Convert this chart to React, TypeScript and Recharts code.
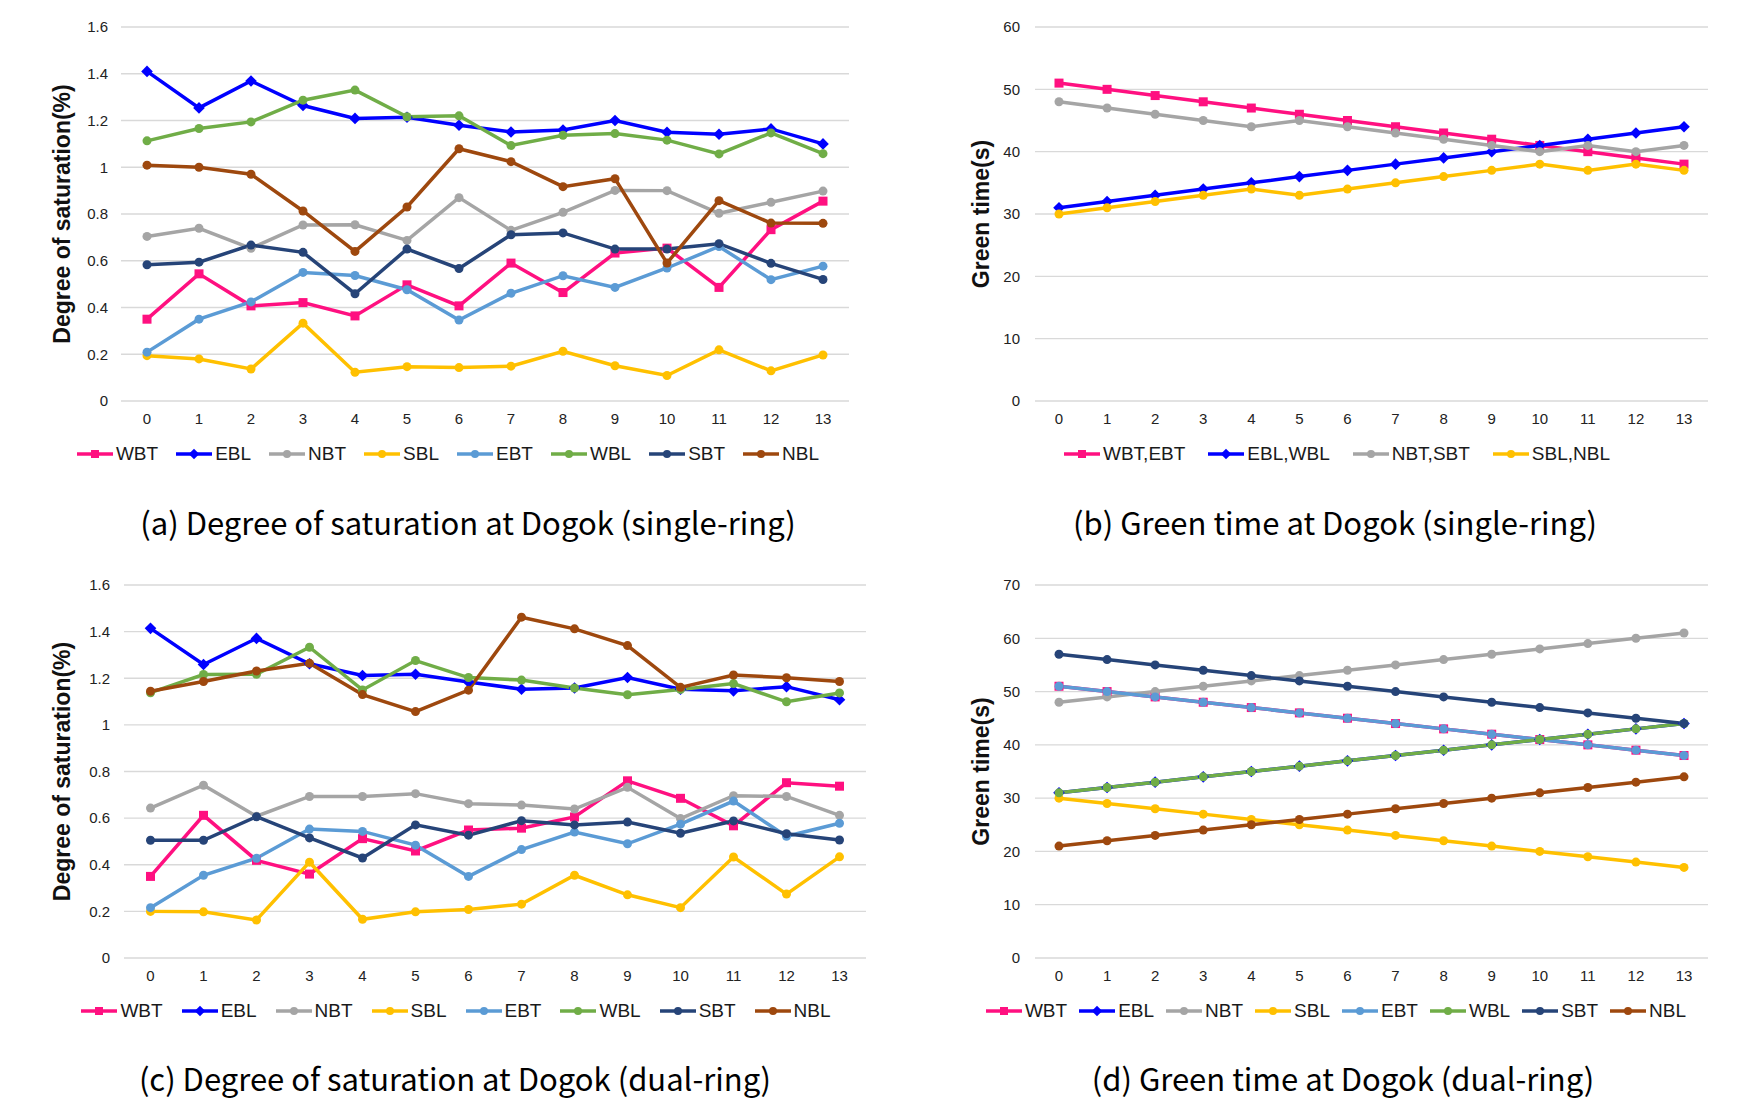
import React from "react";
import { LineChart, Line, XAxis, YAxis, CartesianGrid, Legend } from "recharts";

// signal cycle steps on the x axis
const STEPS = [0, 1, 2, 3, 4, 5, 6, 7, 8, 9, 10, 11, 12, 13];

// (a) degree of saturation, single-ring
const satSingleWBT = [0.35, 0.544, 0.407, 0.421, 0.364, 0.497, 0.407, 0.59, 0.464, 0.633, 0.654, 0.486, 0.733, 0.855];
const satSingleEBL = [1.41, 1.254, 1.369, 1.264, 1.209, 1.214, 1.18, 1.151, 1.159, 1.2, 1.15, 1.141, 1.164, 1.1];
const satSingleNBT = [0.704, 0.739, 0.653, 0.753, 0.754, 0.687, 0.87, 0.73, 0.807, 0.901, 0.9, 0.803, 0.85, 0.898];
const satSingleSBL = [0.194, 0.18, 0.137, 0.333, 0.123, 0.147, 0.143, 0.149, 0.213, 0.151, 0.109, 0.219, 0.129, 0.197];
const satSingleEBT = [0.209, 0.35, 0.424, 0.55, 0.537, 0.476, 0.346, 0.461, 0.536, 0.486, 0.569, 0.661, 0.519, 0.577];
const satSingleWBL = [1.113, 1.166, 1.194, 1.287, 1.33, 1.216, 1.22, 1.093, 1.137, 1.144, 1.116, 1.057, 1.147, 1.058];
const satSingleSBT = [0.583, 0.594, 0.667, 0.636, 0.459, 0.65, 0.567, 0.711, 0.719, 0.65, 0.65, 0.673, 0.589, 0.52];
const satSingleNBL = [1.009, 1.0, 0.97, 0.813, 0.64, 0.83, 1.079, 1.024, 0.917, 0.951, 0.59, 0.857, 0.761, 0.76];

// (b) green time, single-ring
const greenSingleWBTEBT = [51, 50, 49, 48, 47, 46, 45, 44, 43, 42, 41, 40, 39, 38];
const greenSingleEBLWBL = [31, 32, 33, 34, 35, 36, 37, 38, 39, 40, 41, 42, 43, 44];
const greenSingleNBTSBT = [48, 47, 46, 45, 44, 45, 44, 43, 42, 41, 40, 41, 40, 41];
const greenSingleSBLNBL = [30, 31, 32, 33, 34, 33, 34, 35, 36, 37, 38, 37, 38, 37];

// (c) degree of saturation, dual-ring
const satDualWBT = [0.35, 0.612, 0.419, 0.36, 0.512, 0.459, 0.549, 0.557, 0.605, 0.76, 0.685, 0.567, 0.752, 0.737];
const satDualEBL = [1.414, 1.259, 1.371, 1.262, 1.212, 1.217, 1.184, 1.153, 1.158, 1.203, 1.153, 1.146, 1.164, 1.108];
const satDualNBT = [0.643, 0.741, 0.608, 0.693, 0.693, 0.705, 0.662, 0.656, 0.639, 0.732, 0.598, 0.696, 0.693, 0.612];
const satDualSBL = [0.2, 0.198, 0.163, 0.411, 0.166, 0.198, 0.208, 0.231, 0.355, 0.271, 0.216, 0.433, 0.274, 0.434];
const satDualEBT = [0.216, 0.355, 0.428, 0.553, 0.543, 0.484, 0.35, 0.465, 0.54, 0.49, 0.574, 0.673, 0.522, 0.578];
const satDualWBL = [1.138, 1.216, 1.217, 1.333, 1.15, 1.276, 1.203, 1.192, 1.158, 1.129, 1.152, 1.177, 1.099, 1.137];
const satDualSBT = [0.505, 0.505, 0.606, 0.515, 0.429, 0.571, 0.527, 0.589, 0.571, 0.583, 0.535, 0.588, 0.533, 0.506];
const satDualNBL = [1.144, 1.186, 1.231, 1.264, 1.13, 1.057, 1.149, 1.462, 1.412, 1.34, 1.161, 1.214, 1.202, 1.186];

// (d) green time, dual-ring
const greenDualWBT = [51, 50, 49, 48, 47, 46, 45, 44, 43, 42, 41, 40, 39, 38];
const greenDualEBL = [31, 32, 33, 34, 35, 36, 37, 38, 39, 40, 41, 42, 43, 44];
const greenDualNBT = [48, 49, 50, 51, 52, 53, 54, 55, 56, 57, 58, 59, 60, 61];
const greenDualSBL = [30, 29, 28, 27, 26, 25, 24, 23, 22, 21, 20, 19, 18, 17];
const greenDualEBT = [51, 50, 49, 48, 47, 46, 45, 44, 43, 42, 41, 40, 39, 38];
const greenDualWBL = [31, 32, 33, 34, 35, 36, 37, 38, 39, 40, 41, 42, 43, 44];
const greenDualSBT = [57, 56, 55, 54, 53, 52, 51, 50, 49, 48, 47, 46, 45, 44];
const greenDualNBL = [21, 22, 23, 24, 25, 26, 27, 28, 29, 30, 31, 32, 33, 34];

const SAT_TICKS = [0, 0.2, 0.4, 0.6, 0.8, 1, 1.2, 1.4, 1.6];
const GREEN_TICKS_SINGLE = [0, 10, 20, 30, 40, 50, 60];
const GREEN_TICKS_DUAL = [0, 10, 20, 30, 40, 50, 60, 70];

const C = {
  pink: "#FF1080",
  blue: "#0000FF",
  gray: "#A5A5A5",
  yellow: "#FFC000",
  lightBlue: "#5B9BD5",
  green: "#70AD47",
  navy: "#264478",
  brown: "#9E480E",
};

type Shape = "square" | "diamond" | "circle";
interface Series {
  key: string;
  name: string;
  color: string;
  shape: Shape;
  values: number[];
}

const eightSeries = (v: number[][]): Series[] => [
  { key: "wbt", name: "WBT", color: C.pink, shape: "square", values: v[0] },
  { key: "ebl", name: "EBL", color: C.blue, shape: "diamond", values: v[1] },
  { key: "nbt", name: "NBT", color: C.gray, shape: "circle", values: v[2] },
  { key: "sbl", name: "SBL", color: C.yellow, shape: "circle", values: v[3] },
  { key: "ebt", name: "EBT", color: C.lightBlue, shape: "circle", values: v[4] },
  { key: "wbl", name: "WBL", color: C.green, shape: "circle", values: v[5] },
  { key: "sbt", name: "SBT", color: C.navy, shape: "circle", values: v[6] },
  { key: "nbl", name: "NBL", color: C.brown, shape: "circle", values: v[7] },
];

const seriesA = eightSeries([satSingleWBT, satSingleEBL, satSingleNBT, satSingleSBL, satSingleEBT, satSingleWBL, satSingleSBT, satSingleNBL]);
const seriesB: Series[] = [
  { key: "wbtebt", name: "WBT,EBT", color: C.pink, shape: "square", values: greenSingleWBTEBT },
  { key: "eblwbl", name: "EBL,WBL", color: C.blue, shape: "diamond", values: greenSingleEBLWBL },
  { key: "nbtsbt", name: "NBT,SBT", color: C.gray, shape: "circle", values: greenSingleNBTSBT },
  { key: "sblnbl", name: "SBL,NBL", color: C.yellow, shape: "circle", values: greenSingleSBLNBL },
];
const seriesC = eightSeries([satDualWBT, satDualEBL, satDualNBT, satDualSBL, satDualEBT, satDualWBL, satDualSBT, satDualNBL]);
const seriesD = eightSeries([greenDualWBT, greenDualEBL, greenDualNBT, greenDualSBL, greenDualEBT, greenDualWBL, greenDualSBT, greenDualNBL]);

const toRows = (series: Series[]) =>
  STEPS.map((step, i) => {
    const row: Record<string, number> = { step };
    series.forEach((s) => (row[s.key] = s.values[i]));
    return row;
  });

const FONT = "'Liberation Sans', Arial, sans-serif";
const CAPTION_FONT = "'Noto Sans CJK KR', 'Noto Sans', sans-serif";

function Marker({ cx, cy, color, shape, size }: { cx?: number; cy?: number; color: string; shape: Shape; size: number }) {
  if (cx == null || cy == null) return null;
  if (shape === "square") {
    return <rect x={cx - size / 2} y={cy - size / 2} width={size} height={size} fill={color} />;
  }
  if (shape === "diamond") {
    const h = size * 0.58;
    return <polygon points={`${cx},${cy - h} ${cx + h},${cy} ${cx},${cy + h} ${cx - h},${cy}`} fill={color} />;
  }
  return <circle cx={cx} cy={cy} r={size / 2} fill={color} />;
}

interface PanelProps {
  left: number;
  top: number;
  width: number;
  height: number;
  yAxisWidth: number;
  marginRight: number;
  marginBottom: number;
  series: Series[];
  ticks: number[];
  yLabel: string;
  yLabelX: number;
  tickMargin: number;
  xPad: number;
  legendCenter: number;
  legendTop: number;
  legendGap: number;
}

function Panel(p: PanelProps) {
  const data = toRows(p.series);
  const order = p.series.map((s) => s.key);
  const byKey: Record<string, Series> = {};
  p.series.forEach((s) => (byKey[s.key] = s));

  // keep the legend in drawing order, not alphabetical
  const renderLegend = (props: any) => {
    const items = [...(props.payload || [])].sort((a: any, b: any) => order.indexOf(a.dataKey) - order.indexOf(b.dataKey));
    return (
      <div style={{ display: "flex", justifyContent: "center", alignItems: "center", gap: p.legendGap, fontFamily: FONT, fontSize: 19, color: "#1a1a1a" }}>
        {items.map((entry: any) => {
          const s = byKey[entry.dataKey];
          return (
            <div key={entry.dataKey} style={{ display: "flex", alignItems: "center" }}>
              <svg width={36} height={14}>
                <line x1={0} y1={7} x2={36} y2={7} stroke={s.color} strokeWidth={3.5} />
                <Marker cx={18} cy={7} color={s.color} shape={s.shape} size={s.shape === "diamond" ? 9 : 8} />
              </svg>
              <span style={{ marginLeft: 3, lineHeight: "22px" }}>{s.name}</span>
            </div>
          );
        })}
      </div>
    );
  };

  const yLabelContent = (props: any) => {
    const vb = props.viewBox || { y: 0, height: 0 };
    const cy = vb.y + vb.height / 2;
    return (
      <text x={p.yLabelX} y={cy} transform={`rotate(-90, ${p.yLabelX}, ${cy})`} textAnchor="middle" dominantBaseline="central" fontFamily={FONT} fontWeight="bold" fontSize={23} fill="#111">
        {p.yLabel}
      </text>
    );
  };

  return (
    <div style={{ position: "absolute", left: p.left, top: p.top }}>
      <LineChart width={p.width} height={p.height} data={data} margin={{ top: 27, right: p.marginRight, left: 0, bottom: p.marginBottom }}>
        <CartesianGrid vertical={false} stroke="#D9D9D9" strokeWidth={1.3} />
        <XAxis dataKey="step" axisLine={false} tickLine={false} tickSize={0} tickMargin={12} height={30} padding={{ left: p.xPad, right: p.xPad }} tick={{ fontFamily: FONT, fontSize: 15, fill: "#222" }} interval={0} />
        <YAxis width={p.yAxisWidth} domain={[p.ticks[0], p.ticks[p.ticks.length - 1]]} ticks={p.ticks} axisLine={false} tickLine={false} tickSize={0} tickMargin={p.tickMargin} tick={{ fontFamily: FONT, fontSize: 15, fill: "#222" }} label={{ content: yLabelContent }} />
        <Legend layout="horizontal" verticalAlign="middle" align="center" content={renderLegend} wrapperStyle={{ left: p.legendCenter - 450, width: 900, top: p.legendTop, height: 24 }} />
        {p.series.map((s) => (
          <Line
            key={s.key}
            type="linear"
            dataKey={s.key}
            name={s.name}
            stroke={s.color}
            strokeWidth={3.5}
            dot={(d: any) => <Marker key={`${s.key}-${d.index}`} cx={d.cx} cy={d.cy} color={s.color} shape={s.shape} size={s.shape === "diamond" ? 10 : 9} />}
            activeDot={false}
            isAnimationActive={false}
          />
        ))}
      </LineChart>
    </div>
  );
}

function Caption({ text, cx, cy }: { text: string; cx: number; cy: number }) {
  return (
    <div style={{ position: "absolute", left: cx - 400, top: cy - 20, width: 800, height: 40, lineHeight: "40px", textAlign: "center", fontFamily: CAPTION_FONT, fontWeight: 400, fontSize: 31, color: "#000", whiteSpace: "nowrap" }}>
      {text}
    </div>
  );
}

export default function App() {
  return (
    <div style={{ position: "absolute", left: 0, top: 0, width: 1761, height: 1115, background: "#fff", overflow: "hidden" }}>
      <Panel left={0} top={0} width={880} height={480} yAxisWidth={121} marginRight={31} marginBottom={49} series={seriesA} ticks={SAT_TICKS} yLabel="Degree of saturation(%)" yLabelX={62} tickMargin={13} xPad={26} legendCenter={448} legendTop={443} legendGap={18} />
      <Panel left={900} top={0} width={840} height={480} yAxisWidth={135} marginRight={32} marginBottom={49} series={seriesB} ticks={GREEN_TICKS_SINGLE} yLabel="Green time(s)" yLabelX={81} tickMargin={15} xPad={24} legendCenter={437} legendTop={443} legendGap={23} />
      <Panel left={0} top={558} width={900} height={480} yAxisWidth={124} marginRight={34} marginBottom={50} series={seriesC} ticks={SAT_TICKS} yLabel="Degree of saturation(%)" yLabelX={62} tickMargin={14} xPad={26.5} legendCenter={456} legendTop={442} legendGap={19} />
      <Panel left={900} top={558} width={840} height={480} yAxisWidth={135} marginRight={32} marginBottom={50} series={seriesD} ticks={GREEN_TICKS_DUAL} yLabel="Green time(s)" yLabelX={81} tickMargin={15} xPad={24} legendCenter={436} legendTop={442} legendGap={12} />
      <Caption text="(a) Degree of saturation at Dogok (single-ring)" cx={468} cy={522} />
      <Caption text="(b) Green time at Dogok (single-ring)" cx={1335} cy={522} />
      <Caption text="(c) Degree of saturation at Dogok (dual-ring)" cx={455} cy={1078} />
      <Caption text="(d) Green time at Dogok (dual-ring)" cx={1343} cy={1078} />
    </div>
  );
}
